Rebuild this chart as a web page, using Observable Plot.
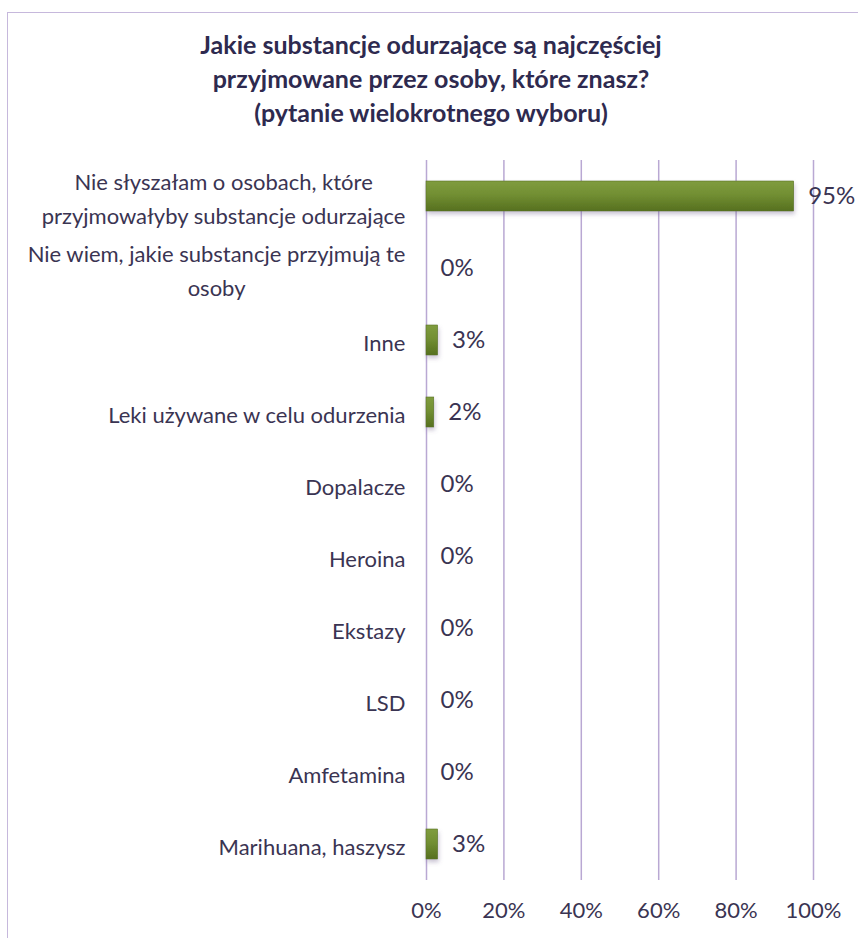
<!DOCTYPE html>
<html><head><meta charset="utf-8">
<script src="https://cdn.jsdelivr.net/npm/d3@7"></script>
<script src="https://cdn.jsdelivr.net/npm/@observablehq/plot@0.6"></script>
<style>
body{margin:0;background:#fff;}
#wrap{position:relative;width:858px;height:938px;overflow:hidden;background:#fff;}
#frame{position:absolute;left:7px;top:12px;width:900px;height:1000px;border-left:1.5px solid #c6b8dc;border-top:1.5px solid #c6b8dc;}
#title{position:absolute;top:27px;left:0;width:862px;text-align:center;font-family:Lato,sans-serif;font-weight:bold;font-size:25px;line-height:34px;color:#2e2a4f;}
#chart{position:absolute;top:140px;left:0;}
</style></head>
<body>
<div id="wrap">
<div id="frame"></div>
<div id="title">Jakie substancje odurzające są najczęściej<br>przyjmowane przez osoby, które znasz?<br>(pytanie wielokrotnego wyboru)</div>
<div id="chart"></div>
</div>
<script>
const categories = [
  "Nie słyszałam o osobach, które\nprzyjmowałyby substancje odurzające",
  "Nie wiem, jakie substancje przyjmują te\nosoby",
  "Inne",
  "Leki używane w celu odurzenia",
  "Dopalacze",
  "Heroina",
  "Ekstazy",
  "LSD",
  "Amfetamina",
  "Marihuana, haszysz"
];
const values = [95, 0, 3, 2, 0, 0, 0, 0, 0, 3];
const xTicks = [0, 20, 40, 60, 80, 100];

const data = categories.map((c, i) => ({category: c, value: values[i]}));
const textColor = "#3a3452";

const chart = Plot.plot({
  width: 858,
  height: 798,
  marginLeft: 426,
  marginRight: 45,
  marginTop: 20,
  marginBottom: 58,
  x: {domain: [0, 100], ticks: xTicks, label: null},
  y: {domain: categories, paddingInner: 0.58, paddingOuter: 0.29, label: null},
  style: {fontFamily: "Lato, sans-serif", color: textColor, background: "transparent", overflow: "visible"},
  marks: [
    Plot.ruleX(xTicks, {stroke: "#b9a8d3", strokeWidth: 1.5}),
    Plot.barX(data, {x: "value", y: "category", fill: "url(#barGrad)", stroke: "#5a7322", strokeWidth: 0.6}),
    Plot.text(data, {x: "value", y: "category", text: d => d.value + "%", textAnchor: "start", dx: 14, fontSize: 24, fill: textColor}),
    Plot.axisX({ticks: xTicks, tickSize: 0, tickPadding: 22, fontSize: 22, tickFormat: d => d + "%", label: null, fill: textColor}),
    Plot.axisY({tickSize: 0, tickPadding: 21, fontSize: 22, lineHeight: 1.55, label: null, fill: textColor})
  ]
});
document.getElementById("chart").appendChild(chart);

const svg = d3.select(chart);
const defs = svg.insert("defs", ":first-child");
const g = defs.append("linearGradient").attr("id", "barGrad").attr("x1", 0).attr("y1", 0).attr("x2", 0).attr("y2", 1);
g.append("stop").attr("offset", "0%").attr("stop-color", "#7f9c3e");
g.append("stop").attr("offset", "45%").attr("stop-color", "#728f33");
g.append("stop").attr("offset", "100%").attr("stop-color", "#56701f");
const f = defs.append("filter").attr("id", "shadow").attr("x", "-20%").attr("y", "-30%").attr("width", "140%").attr("height", "180%");
f.append("feDropShadow").attr("dx", 1).attr("dy", 3).attr("stdDeviation", 2).attr("flood-color", "#6a5a85").attr("flood-opacity", 0.35);
svg.selectAll('g[aria-label="bar"]').attr("filter", "url(#shadow)");

// center multi-line category labels relative to each other, block right-aligned
svg.selectAll('g[aria-label="y-axis tick label"] text').each(function() {
  const spans = this.querySelectorAll("tspan");
  if (spans.length > 1) {
    let maxW = 0;
    spans.forEach(s => { maxW = Math.max(maxW, s.getComputedTextLength()); });
    this.setAttribute("text-anchor", "middle");
    spans.forEach(s => s.setAttribute("x", -maxW / 2));
  }
});
</script>
</body></html>
